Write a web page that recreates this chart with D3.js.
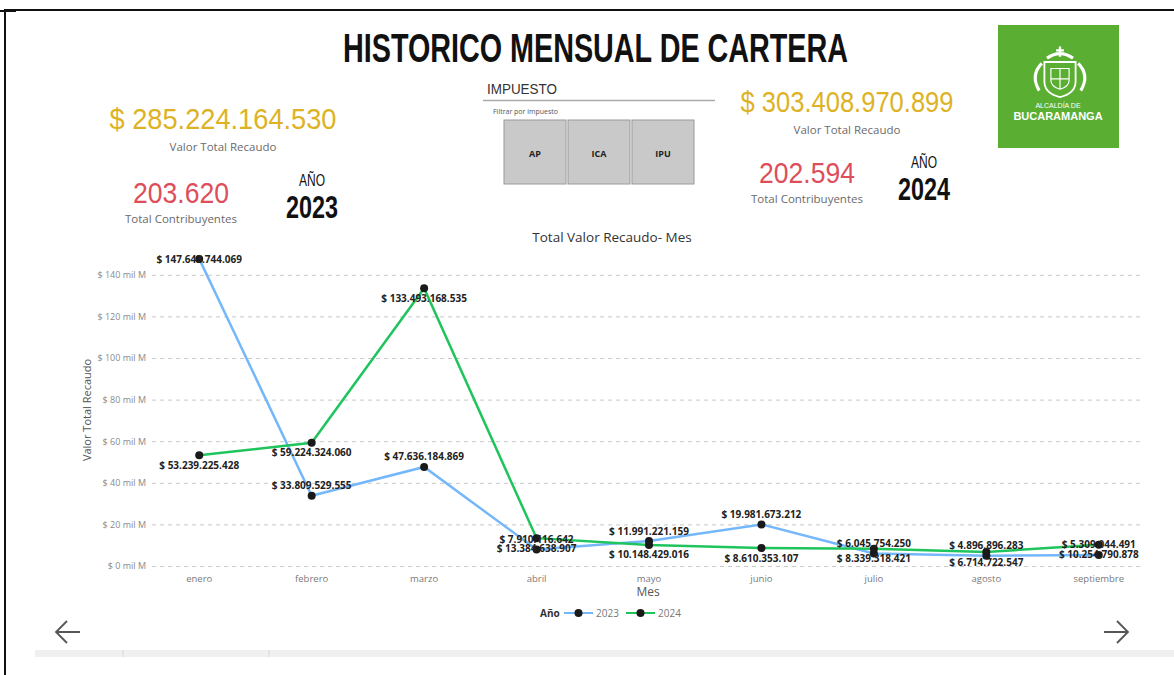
<!DOCTYPE html>
<html>
<head>
<meta charset="utf-8">
<script src="https://cdn.jsdelivr.net/npm/d3@7"></script>
<style>
  body { margin: 0; background: #fff; }
  svg { display: block; }
  .lbl { font-family: "Open Sans", sans-serif; font-size: 10px; font-weight: 700; fill: #222; }
</style>
</head>
<body>
<svg width="1174" height="675"></svg>
<script>
// datos
var meses = ["enero", "febrero", "marzo", "abril", "mayo", "junio", "julio", "agosto", "septiembre"];
var recaudo2023 = [147643744069, 33809529555, 47636184869, 7910116642, 11991221159, 19981673212, 6045754250, 4896896283, 5309044491];
var recaudo2024 = [53239225428, 59224324060, 133493168535, 13384638907, 10148429016, 8610353107, 8339318421, 6714722547, 10254790878];
var anios = ["2023", "2024"];
var totalRecaudo = [285224164530, 303408970899];
var totalContribuyentes = [203620, 202594];
var impuestos = ["AP", "ICA", "IPU"];
var yTicks = [0, 20, 40, 60, 80, 100, 120, 140]; // mil M

var es = d3.formatLocale({decimal: ",", thousands: ".", grouping: [3], currency: ["$ ", ""]});
var fmtNum = es.format(",.0f");
var fmtPeso = function (v) { return "$ " + fmtNum(v); };

var svg = d3.select("svg");

// marco
svg.append("path").attr("d", "M5,675 V10 H1174").attr("fill", "none").attr("stroke", "#111").attr("stroke-width", 2);
svg.append("line").attr("x1", 0).attr("x2", 16).attr("y1", 11).attr("y2", 11).attr("stroke", "#111").attr("stroke-width", 2);

// titulo
svg.append("text").attr("x", 343).attr("y", 62)
    .attr("textLength", 505).attr("lengthAdjust", "spacingAndGlyphs")
    .style("font-family", "'Liberation Sans Narrow', sans-serif").style("font-weight", 700).style("font-size", "40px")
    .attr("fill", "#111").text("HISTORICO MENSUAL DE CARTERA");

// tarjetas KPI
var kpi = [
    {anio: anios[0], total: totalRecaudo[0], contrib: totalContribuyentes[0], cx: 223, ty: 129, w: 227, ccx: 181, cy: 203, ax: 312, ay: 186},
    {anio: anios[1], total: totalRecaudo[1], contrib: totalContribuyentes[1], cx: 847, ty: 112, w: 213, ccx: 807, cy: 183, ax: 924, ay: 168}
];
kpi.forEach(function (k) {
    svg.append("text").attr("x", k.cx - k.w / 2).attr("y", k.ty)
        .attr("textLength", k.w).attr("lengthAdjust", "spacingAndGlyphs")
        .style("font-family", "'Liberation Sans Narrow', sans-serif").style("font-size", "30px")
        .attr("fill", "#DDB325").text(fmtPeso(k.total));
    svg.append("text").attr("x", k.cx).attr("y", k.ty + 22).attr("text-anchor", "middle")
        .style("font-family", "'Open Sans', sans-serif").style("font-size", "11.5px")
        .attr("fill", "#6b6b6b").text("Valor Total Recaudo");
    svg.append("text").attr("x", k.ccx - 48).attr("y", k.cy)
        .attr("textLength", 96).attr("lengthAdjust", "spacingAndGlyphs")
        .style("font-family", "'Liberation Sans Narrow', sans-serif").style("font-size", "30px")
        .attr("fill", "#DE4E5A").text(fmtNum(k.contrib));
    svg.append("text").attr("x", k.ccx).attr("y", k.cy + 20).attr("text-anchor", "middle")
        .style("font-family", "'Open Sans', sans-serif").style("font-size", "11.5px")
        .attr("fill", "#6b6b6b").text("Total Contribuyentes");
    svg.append("text").attr("x", k.ax - 13).attr("y", k.ay)
        .attr("textLength", 26).attr("lengthAdjust", "spacingAndGlyphs")
        .style("font-family", "'Liberation Sans Narrow', sans-serif").style("font-size", "17px")
        .attr("fill", "#111").text("AÑO");
    svg.append("text").attr("x", k.ax - 26).attr("y", k.ay + 32)
        .attr("textLength", 52).attr("lengthAdjust", "spacingAndGlyphs")
        .style("font-family", "'Liberation Sans Narrow', sans-serif").style("font-weight", 700).style("font-size", "31px")
        .attr("fill", "#111").text(k.anio);
});

// segmentador impuesto
svg.append("text").attr("x", 487).attr("y", 94)
    .attr("textLength", 70).attr("lengthAdjust", "spacingAndGlyphs")
    .style("font-family", "'Liberation Sans Narrow', sans-serif").style("font-size", "15px")
    .attr("fill", "#333").text("IMPUESTO");
svg.append("line").attr("x1", 483).attr("x2", 715).attr("y1", 100.5).attr("y2", 100.5).attr("stroke", "#aaa").attr("stroke-width", 1.5);
svg.append("text").attr("x", 493).attr("y", 114)
    .style("font-family", "'Open Sans', sans-serif").style("font-size", "7px")
    .attr("fill", "#555").text("Filtrar por impuesto");
var bx = d3.scaleBand().domain(impuestos).range([504, 694]).paddingInner(0.03);
svg.selectAll(".btn").data(impuestos).enter().append("rect")
    .attr("x", function (d) { return bx(d); }).attr("y", 120)
    .attr("width", bx.bandwidth()).attr("height", 64)
    .attr("fill", "#c9c9c9").attr("stroke", "#9a9a9a");
svg.selectAll(".btnt").data(impuestos).enter().append("text")
    .attr("x", function (d) { return bx(d) + bx.bandwidth() / 2; }).attr("y", 157)
    .attr("text-anchor", "middle")
    .style("font-family", "'Open Sans', sans-serif").style("font-size", "9px").style("font-weight", 700)
    .attr("fill", "#222").text(function (d) { return d; });

// logo
var logo = svg.append("g").attr("transform", "translate(998,25)");
logo.append("rect").attr("width", 121).attr("height", 123).attr("fill", "#5AAE32");
var esc = logo.append("g").attr("transform", "translate(62,50) scale(1.3)").attr("fill", "none").attr("stroke", "#fff").attr("stroke-width", 1.4);
esc.append("path").attr("d", "M-12,-10 H12 V5 Q12,14 0,17 Q-12,14 -12,5 Z");
esc.append("path").attr("d", "M-7,-5 H7 V4 Q7,9 0,11 Q-7,9 -7,4 Z M0,-5 V11 M-7,3 H7").attr("stroke-width", 0.9);
esc.append("path").attr("d", "M-14,-9 Q-23,0 -16,12 M14,-9 Q23,0 16,12 M-10,-13 Q0,-20 10,-13").attr("stroke-width", 2.4);
esc.append("path").attr("d", "M0,-14 V-22 M-3,-19 H3").attr("stroke-width", 1.8);
logo.append("text").attr("x", 60).attr("y", 83).attr("text-anchor", "middle")
    .style("font-family", "'Liberation Sans Narrow', sans-serif").style("font-size", "7px")
    .attr("fill", "#fff").text("ALCALDÍA DE");
logo.append("text").attr("x", 60).attr("y", 95).attr("text-anchor", "middle")
    .style("font-family", "'Liberation Sans Narrow', sans-serif").style("font-size", "11px").style("font-weight", 700)
    .attr("fill", "#fff").text("BUCARAMANGA");

// grafico de lineas
var x = d3.scaleBand().domain(meses).range([143, 1155]);
var y = d3.scaleLinear().domain([0, 150]).range([566, 254]);
var xc = function (m) { return x(m) + x.bandwidth() / 2; };

svg.append("text").attr("x", 612).attr("y", 242).attr("text-anchor", "middle")
    .style("font-family", "'Open Sans', sans-serif").style("font-size", "13.5px")
    .attr("fill", "#333").text("Total Valor Recaudo- Mes");

var yAxis = svg.append("g").attr("transform", "translate(152,0)")
    .call(d3.axisLeft(y).tickValues(yTicks).tickSize(-988).tickPadding(6)
        .tickFormat(function (d) { return "$ " + d + " mil M"; }));
yAxis.select(".domain").remove();
yAxis.selectAll(".tick line").attr("stroke", "#c8c8c8").attr("stroke-dasharray", "4,4");
yAxis.selectAll(".tick text").attr("fill", "#8a8a8a")
    .style("font-family", "'Open Sans', sans-serif").style("font-size", "9px");

var xAxis = svg.append("g").attr("transform", "translate(0,566)")
    .call(d3.axisBottom(x).tickSize(0).tickPadding(9));
xAxis.select(".domain").remove();
xAxis.selectAll(".tick text").attr("fill", "#7a7a7a")
    .style("font-family", "'Open Sans', sans-serif").style("font-size", "9.5px");

svg.append("text").attr("x", 648).attr("y", 596).attr("text-anchor", "middle")
    .style("font-family", "'Open Sans', sans-serif").style("font-size", "12px")
    .attr("fill", "#555").text("Mes");
svg.append("text").attr("transform", "translate(91,410) rotate(-90)").attr("text-anchor", "middle")
    .style("font-family", "'Open Sans', sans-serif").style("font-size", "11px")
    .attr("fill", "#555").text("Valor Total Recaudo");

var series = [
    {anio: anios[0], valores: recaudo2023, color: "#74B7FB", lado: -1},
    {anio: anios[1], valores: recaudo2024, color: "#1FC45C", lado: 1}
];
var line = d3.line()
    .x(function (d, i) { return xc(meses[i]); })
    .y(function (d) { return y(d / 1e9); });

series.forEach(function (s) {
    svg.append("path").datum(s.valores).attr("d", line)
        .attr("fill", "none").attr("stroke", s.color).attr("stroke-width", 2.5);
});
series.forEach(function (s) {
    svg.selectAll(null).data(s.valores).enter().append("circle")
        .attr("cx", function (d, i) { return xc(meses[i]); })
        .attr("cy", function (d) { return y(d / 1e9); })
        .attr("r", 4).attr("fill", "#1a1a1a");
});
series.forEach(function (s) {
    svg.selectAll(null).data(s.valores).enter().append("text")
        .attr("class", "lbl").attr("text-anchor", "middle")
        .attr("x", function (d, i) { return xc(meses[i]); })
        .attr("y", function (d) { return Math.max(y(d / 1e9) + s.lado * 10, y.range()[1] + 5) + 3.5; })
        .text(function (d) { return fmtPeso(d); });
});

// leyenda
var leg = svg.append("g").attr("transform", "translate(540,613)");
leg.append("text").attr("x", 0).attr("y", 3.5)
    .style("font-family", "'Open Sans', sans-serif").style("font-size", "10px").style("font-weight", 700)
    .attr("fill", "#333").text("Año");
var lx = [24, 86];
series.forEach(function (s, i) {
    var g = leg.append("g").attr("transform", "translate(" + lx[i] + ",0)");
    g.append("line").attr("x1", 0).attr("x2", 29).attr("stroke", s.color).attr("stroke-width", 2);
    g.append("circle").attr("cx", 14.5).attr("r", 4).attr("fill", "#1a1a1a");
    g.append("text").attr("x", 32).attr("y", 3.5)
        .style("font-family", "'Open Sans', sans-serif").style("font-size", "10px")
        .attr("fill", "#777").text(s.anio);
});

// flechas de navegacion
var flecha = d3.line();
svg.append("path").attr("d", flecha([[80, 632], [56, 632]]) + flecha([[67, 621], [56, 632], [67, 643]]))
    .attr("fill", "none").attr("stroke", "#555").attr("stroke-width", 1.8);
svg.append("path").attr("d", flecha([[1104, 632], [1128, 632]]) + flecha([[1117, 621], [1128, 632], [1117, 643]]))
    .attr("fill", "none").attr("stroke", "#555").attr("stroke-width", 1.8);

// barra inferior
svg.append("rect").attr("x", 35).attr("y", 650).attr("width", 1139).attr("height", 7).attr("fill", "#f0f0f0");
[123, 269].forEach(function (px) {
    svg.append("line").attr("x1", px).attr("x2", px).attr("y1", 650).attr("y2", 657).attr("stroke", "#d8d8d8");
});
</script>
</body>
</html>
